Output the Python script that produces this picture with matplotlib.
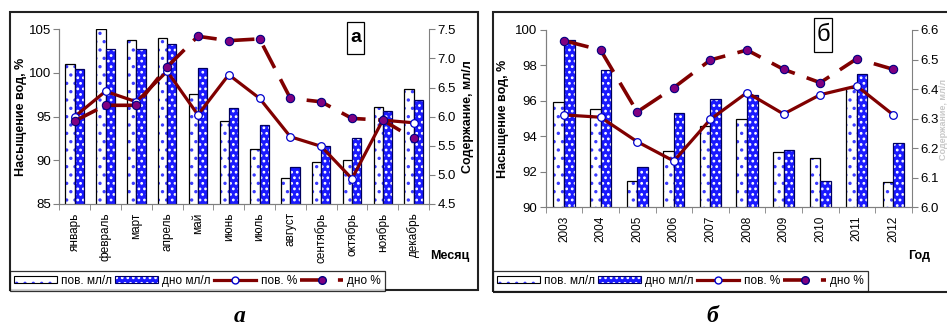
import numpy as np
import matplotlib
matplotlib.use("Agg")
import matplotlib.pyplot as plt
from matplotlib.patches import Rectangle, Patch
from matplotlib.lines import Line2D

plt.rcParams['font.family'] = ['Liberation Sans', 'DejaVu Sans']
plt.rcParams['hatch.linewidth'] = 1.2

# panel a: months
months = ["январь", "февраль", "март", "апрель", "май", "июнь", "июль",
          "август", "сентябрь", "октябрь", "ноябрь", "декабрь"]
a_pov_mgl = [6.90, 7.50, 7.32, 7.35, 6.39, 5.93, 5.45, 4.94, 5.22, 5.25, 6.17, 6.47]
a_dno_mgl = [6.81, 7.17, 7.17, 7.25, 6.84, 6.15, 5.85, 5.13, 5.49, 5.64, 6.09, 6.29]
a_pov_pct = [95.0, 97.9, 96.7, 100.2, 95.2, 99.8, 97.1, 92.7, 91.6, 87.9, 94.6, 94.3]
a_dno_pct = [94.5, 96.3, 96.3, 100.7, 104.2, 103.7, 103.9, 97.1, 96.7, 94.8, 94.6, 92.5]

# panel b: years
years = ["2003", "2004", "2005", "2006", "2007", "2008", "2009", "2010", "2011", "2012"]
b_pov_mgl = [6.358, 6.332, 6.090, 6.191, 6.275, 6.298, 6.188, 6.166, 6.403, 6.087]
b_dno_mgl = [6.566, 6.463, 6.137, 6.318, 6.365, 6.379, 6.195, 6.090, 6.451, 6.216]
b_pov_pct = [95.21, 95.08, 93.70, 92.61, 94.96, 96.47, 95.26, 96.35, 96.84, 95.21]
b_dno_pct = [99.40, 98.87, 95.38, 96.75, 98.31, 98.87, 97.78, 97.03, 98.38, 97.78]

RED = "#800000"
BLUE = "#1a1aff"
SPINE = "#808080"
W, H = 947, 327


def fx(px):
    return px / W


def fy(py):
    return 1 - py / H


def panel(rect, cats, pov_mgl, dno_mgl, pov_pct, dno_pct,
          pct_lim, pct_ticks, mgl_lim, mgl_ticks, bw):
    ax = fig.add_axes(rect)
    ax2 = ax.twinx()
    ax.set_zorder(ax2.get_zorder() + 1)
    ax.patch.set_visible(False)

    x = np.arange(len(cats))
    # bars on the content axis (right)
    ax2.bar(x - bw / 2, pov_mgl, bw, color="white", edgecolor="#3a3aff",
            hatch="..", lw=0)
    ax2.bar(x - bw / 2, pov_mgl, bw, fill=False, edgecolor="black", lw=0.9)
    ax2.bar(x + bw / 2, dno_mgl, bw, color=BLUE, edgecolor="white", hatch="...", lw=0)
    ax2.bar(x + bw / 2, dno_mgl, bw, fill=False, edgecolor="#000060", lw=0.9)
    ax2.set_ylim(*mgl_lim)
    ax2.set_yticks(mgl_ticks)
    ax2.set_yticklabels([f"{v:.1f}" for v in mgl_ticks], fontsize=9.5)

    # saturation lines (left)
    ax.plot(x, pov_pct, color=RED, lw=2.3, marker="o", ms=5.5, mfc="white",
            mec="#0000cc", mew=0.9, zorder=3)
    ax.plot(x, dno_pct, color=RED, lw=2.6, dashes=(7, 3.5), marker="o", ms=6,
            mfc="#800080", mec="#000080", mew=0.8, zorder=4)
    ax.set_ylim(*pct_lim)
    ax.set_yticks(pct_ticks)
    ax.set_yticklabels([f"{v:.0f}" for v in pct_ticks], fontsize=9.5)
    ax.set_xlim(-0.5, len(cats) - 0.5)
    ax.set_xticks(x)
    ax.set_xticklabels(cats, rotation=90, fontsize=8.5)
    ax.set_xticks(np.arange(len(cats) + 1) - 0.5, minor=True)
    ax.tick_params(axis="x", which="major", length=0, pad=6)
    ax.tick_params(axis="x", which="minor", length=4, color=SPINE)
    ax.tick_params(axis="y", length=4, color=SPINE, pad=2)
    ax2.tick_params(axis="y", length=4, color=SPINE, pad=2)

    for a in (ax, ax2):
        a.spines["top"].set_visible(False)
        for s in ("left", "right", "bottom"):
            a.spines[s].set_color(SPINE)
    ax.spines["right"].set_visible(False)
    return ax, ax2


fig = plt.figure(figsize=(9.47, 3.27), dpi=100)

# ---- panel a ----
panel([fx(59.3), fy(204), fx(429 - 59.3), (204 - 29.3) / H], months,
      a_pov_mgl, a_dno_mgl, a_pov_pct, a_dno_pct,
      (85, 105), [85, 90, 95, 100, 105], (4.5, 7.5),
      [4.5, 5.0, 5.5, 6.0, 6.5, 7.0, 7.5], 0.3)

# ---- panel b ----
panel([fx(545.7), fy(207.3), fx(911.7 - 545.7), (207.3 - 30) / H], years,
      b_pov_mgl, b_dno_mgl, b_pov_pct, b_dno_pct,
      (90, 100), [90, 92, 94, 96, 98, 100], (6.0, 6.6),
      [6.0, 6.1, 6.2, 6.3, 6.4, 6.5, 6.6], 0.29)

# axis titles
fig.text(fx(21), fy(117), "Насыщение вод, %", rotation=90, ha="center", va="center",
         fontsize=9, fontweight="bold")
fig.text(fx(468), fy(117), "Содержание, мл/л", rotation=90, ha="center", va="center",
         fontsize=9, fontweight="bold")
fig.text(fx(503), fy(119), "Насыщение вод, %", rotation=90, ha="center", va="center",
         fontsize=9, fontweight="bold")
# in the source this title is almost cut away by the page edge
fig.text(fx(943.5), fy(119), "Содержание, мл/л", rotation=90, ha="center", va="center",
         fontsize=6.5, fontweight="bold", color="#c8c8c8")
fig.text(fx(450), fy(256), "Месяц", ha="center", va="center", fontsize=9, fontweight="bold")
fig.text(fx(919), fy(256), "Год", ha="center", va="center", fontsize=9, fontweight="bold")

# panel tags (tall narrow boxes)
fig.patches.append(Rectangle((fx(347), fy(54)), fx(17), 32 / H, transform=fig.transFigure,
                             fc="white", ec="black", lw=0.9))
fig.text(fx(355.5), fy(38), "а", ha="center", va="center", fontsize=14, fontweight="bold")
fig.patches.append(Rectangle((fx(814), fy(52)), fx(18), 34 / H, transform=fig.transFigure,
                             fc="white", ec="black", lw=0.9))
fig.text(fx(823), fy(35), "б", ha="center", va="center", fontsize=17)

# outer frames
fig.patches.append(Rectangle((fx(10), fy(290)), fx(468), 278 / H, transform=fig.transFigure,
                             fill=False, ec="#222222", lw=1.5))
fig.patches.append(Rectangle((fx(493), fy(292)), fx(470), 280 / H, transform=fig.transFigure,
                             fill=False, ec="#222222", lw=1.5))

# legends
handles = [
    (Patch(facecolor="white", edgecolor="#3a3aff", hatch="..", lw=0),
     Patch(fill=False, edgecolor="black", lw=0.8)),
    (Patch(facecolor=BLUE, edgecolor="white", hatch="...", lw=0),
     Patch(fill=False, edgecolor="#000060", lw=0.8)),
    Line2D([], [], color=RED, lw=2.3, marker="o", ms=5, mfc="white", mec="#0000cc"),
    Line2D([], [], color=RED, lw=2.6, dashes=(7, 3.5), marker="o", ms=5.5,
           mfc="#800080", mec="#000080"),
]
labels = ["пов. мл/л", "дно мл/л", "пов. %", "дно %"]
for x0 in (10, 493):
    leg = fig.legend(handles, labels, loc="lower left",
                     bbox_to_anchor=(fx(x0), fy(291)), ncol=4, fontsize=8.5,
                     frameon=True, fancybox=False, edgecolor="black",
                     handlelength=3.6, handleheight=0.55, handletextpad=0.35,
                     columnspacing=0.3, borderpad=0.35, borderaxespad=0)
    leg.get_frame().set_linewidth(0.9)

# captions
fig.text(fx(240), fy(316), "а", ha="center", va="center", fontsize=17,
         fontweight="bold", fontstyle="italic", family="Liberation Serif")
fig.text(fx(712), fy(316), "б", ha="center", va="center", fontsize=17,
         fontweight="bold", fontstyle="italic", family="Liberation Serif")

fig.savefig("out.png", dpi=100)
